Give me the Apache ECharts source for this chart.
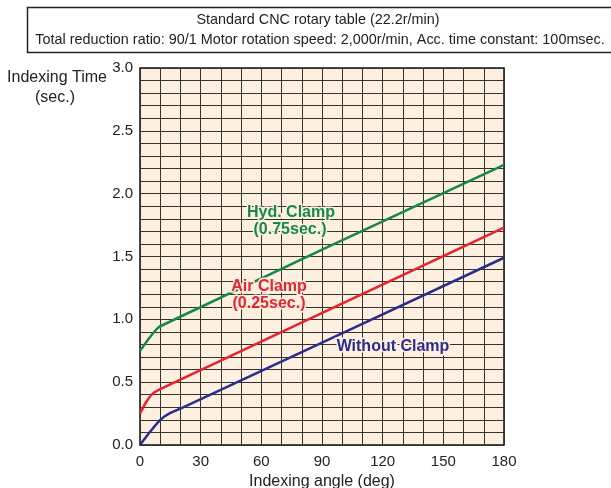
<!DOCTYPE html>
<html><head><meta charset="utf-8">
<script src="https://cdn.jsdelivr.net/npm/echarts@6/dist/echarts.min.js"></script>
<style>html,body{margin:0;padding:0;background:#fff}#c{width:611px;height:488px}</style>
</head><body><div id="c"></div>
<script>
const withoutAngles = [0, 5, 10, 15, 20, 180];
const withoutClamp = [0, 0.105, 0.2, 0.255, 0.29, 1.49];
const airAngles = [0, 3, 6, 10, 180];
const airClamp = [0.25, 0.34, 0.405, 0.445, 1.73];
const hydAngles = [0, 5, 10, 180];
const hydClamp = [0.75, 0.86, 0.945, 2.23];
const xTicks = [0, 30, 60, 90, 120, 150, 180];
const yTicks = ['0.0', '0.5', '1.0', '1.5', '2.0', '2.5', '3.0'];
const titleLine1 = 'Standard CNC rotary table (22.2r/min)';
const titleLine2 = 'Total reduction ratio: 90/1 Motor rotation speed: 2,000r/min, Acc. time constant: 100msec.';

const font = 'Liberation Sans, Arial, Helvetica, sans-serif';
const pair = (xs, ys) => xs.map((x, i) => [x, ys[i]]);
const chart = echarts.init(document.getElementById('c'));
const lw = 2.5;
const bg = '#fdf0e1';
const lbl = (x, y, text, color) => ({ type: 'text', x: x, y: y, z: 10,
  style: { text: text, font: 'bold 16px ' + font, fill: color, stroke: bg, lineWidth: 3, textAlign: 'center', textVerticalAlign: 'middle' } });
chart.setOption({
  backgroundColor: '#fff',
  animation: false,
  grid: { left: 140, top: 68, right: 107, bottom: 43, outerBoundsMode: 'none', containLabel: false,
    show: true, backgroundColor: bg, borderColor: '#111', borderWidth: 1.5 },
  xAxis: {
    type: 'value', min: 0, max: 180, interval: 10,
    axisLine: { show: false }, axisTick: { show: false },
    splitLine: { show: true, lineStyle: { color: '#36312c', width: 1 } },
    axisLabel: { color: '#222', fontSize: 15, fontFamily: font, margin: 9,
      formatter: v => xTicks.indexOf(v) >= 0 ? String(v) : '' },
    name: 'Indexing angle (deg)', nameLocation: 'middle', nameGap: 28,
    nameTextStyle: { color: '#222', fontSize: 16, fontFamily: font, verticalAlign: 'top' }
  },
  yAxis: {
    type: 'value', min: 0, max: 3, interval: 0.1,
    axisLine: { show: false }, axisTick: { show: false },
    splitLine: { show: true, lineStyle: { color: '#36312c', width: 1 } },
    axisLabel: { color: '#222', fontSize: 15, fontFamily: font, margin: 7,
      formatter: v => { const s = (Math.round(v * 10) / 10).toFixed(1); return yTicks.indexOf(s) >= 0 ? s : ''; } }
  },
  series: [
    { type: 'line', data: pair(hydAngles, hydClamp), smooth: 0.2, symbol: 'none', lineStyle: { color: '#16894a', width: lw }, z: 5 },
    { type: 'line', data: pair(airAngles, airClamp), smooth: 0.2, symbol: 'none', lineStyle: { color: '#e8232c', width: lw }, z: 5 },
    { type: 'line', data: pair(withoutAngles, withoutClamp), smooth: 0.2, symbol: 'none', lineStyle: { color: '#2b2c8c', width: lw }, z: 5 }
  ],
  graphic: [
    { type: 'rect', shape: { x: 27.5, y: 7.5, width: 600, height: 45 }, style: { fill: '#fff', stroke: '#222', lineWidth: 1.5 } },
    { type: 'text', x: 318, y: 20, style: { text: titleLine1, font: '14.4px ' + font, fill: '#222', textAlign: 'center', textVerticalAlign: 'middle' } },
    { type: 'text', x: 320, y: 40, style: { text: titleLine2, font: '14.4px ' + font, fill: '#222', textAlign: 'center', textVerticalAlign: 'middle' } },
    { type: 'text', x: 57, y: 78, style: { text: 'Indexing Time', font: '16px ' + font, fill: '#222', textAlign: 'center', textVerticalAlign: 'middle' } },
    { type: 'text', x: 55, y: 98, style: { text: '(sec.)', font: '16px ' + font, fill: '#222', textAlign: 'center', textVerticalAlign: 'middle' } },
    lbl(291, 213, 'Hyd. Clamp', '#16894a'),
    lbl(290, 230, '(0.75sec.)', '#16894a'),
    lbl(269, 287, 'Air Clamp', '#e8232c'),
    lbl(269, 304, '(0.25sec.)', '#e8232c'),
    lbl(393, 347, 'Without Clamp', '#2b2c8c')
  ]
});
</script></body></html>
